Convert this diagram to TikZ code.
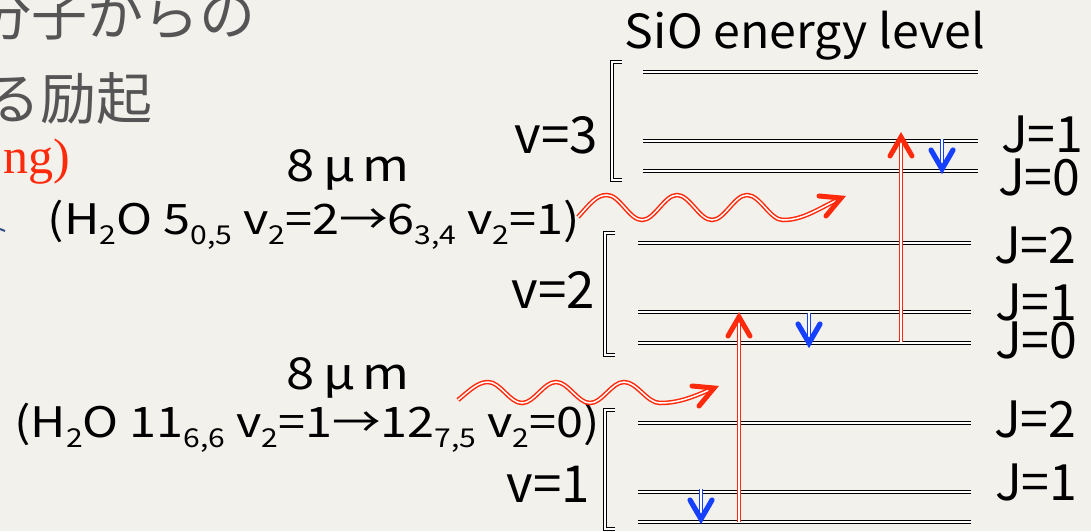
\documentclass[tikz,border=0pt]{standalone}
\usepackage{fontspec}
\setmainfont{Noto Sans CJK JP}
\newfontfamily\serifred{Liberation Serif}
\usetikzlibrary{calc}
\definecolor{bg}{HTML}{F3F1EC}
\definecolor{lred}{HTML}{FF2A0C}
\definecolor{lblue}{HTML}{1640FF}
\definecolor{jgrey}{HTML}{555555}
\definecolor{bulletblue}{HTML}{34508A}
\newcommand{\lowsub}[1]{\raisebox{-10pt}{\fontsize{26}{26}\selectfont #1}}
\newcommand{\mum}{\resizebox{123pt}{\height}{8\hspace{8pt}μ\hspace{6pt}m}}
\begin{document}
\begin{tikzpicture}[x=1pt,y=-1pt,
 level/.style={draw=black, line width=1.8pt, double=white, double distance=1.3pt},
 brack/.style={draw=black, line width=1.2pt, double=white, double distance=1.2pt},
 redshaft/.style={draw=lred, line width=1.5pt, double=white, double distance=1.5pt},
 redhead/.style={draw=lred, line width=5pt, line cap=round, line join=miter},
 blueshaft/.style={draw=lblue, line width=1.1pt, double=white, double distance=1.3pt},
 bluehead/.style={draw=lblue, line width=5.2pt, line cap=round, line join=miter},
 jlab/.style={anchor=base west, inner sep=0, font=\fontsize{50}{50}\selectfont},
 vlab/.style={anchor=base east, inner sep=0, font=\fontsize{51}{51}\selectfont},
 mulab/.style={anchor=base, inner sep=0, font=\fontsize{44}{44}\selectfont},
 hlab/.style={anchor=base, inner sep=0, font=\fontsize{42}{42}\selectfont},
]
\useasboundingbox (0,0) rectangle (1091,531);
\fill[bg] (0,0) rectangle (1091,531);
\clip (0,0) rectangle (1091,531);

% left text (cut off)
\node[anchor=base east, inner sep=0, text=jgrey, font=\fontsize{56}{56}\selectfont] (jp1) at (256,35) {分子からの};
\node[anchor=base east, inner sep=0, text=jgrey, font=\fontsize{56}{56}\selectfont] (jp2) at (153,119) {る励起};
\node[anchor=base east, inner sep=0, text=lred, font=\serifred\fontsize{50}{50}\selectfont] (ng) at (70,173) {ng)};
\draw[bulletblue, line width=2pt] (0,229) -- (5,231);

% title
\node[anchor=base, inner sep=0, font=\fontsize{47}{47}\selectfont] (title) at (805,48) {\resizebox{360pt}{\height}{SiO energy level}};

% energy levels
\draw[level] (643,72) -- (978,72);
\draw[level] (643,141) -- (978,141);
\draw[level] (643,171) -- (978,171);
\draw[level] (638,243) -- (971,243);
\draw[level] (638,312) -- (971,312);
\draw[level] (638,343) -- (971,343);
\draw[level] (638,423) -- (971,423);
\draw[level] (638,492) -- (971,492);
\draw[level] (638,522) -- (971,522);

% brackets
\draw[brack] (622,62) -- (612,62) -- (612,180) -- (622,180);
\draw[brack] (615,233) -- (605,233) -- (605,355) -- (615,355);
\draw[brack] (615,410) -- (605,410) -- (605,529) -- (615,529);

% v labels
\node[vlab] (v3) at (598,153) {v=3};
\node[vlab] (v2) at (595,308) {v=2};
\node[vlab] (v1) at (590,502) {v=1};

% J labels
\node[jlab] (v3j1) at (1001,152) {J=1};
\node[jlab] (v3j0) at (998,195) {J=0};
\node[jlab] (v2j2) at (994,263) {J=2};
\node[jlab] (v2j1) at (995,320) {J=1};
\node[jlab] (v2j0) at (995,358) {J=0};
\node[jlab] (v1j2) at (994,437) {J=2};
\node[jlab] (v1j1) at (995,500) {J=1};

% H2O texts
\node[mulab] (mu1) at (348,181) {\mum};
\node[hlab] (h1) at (314,234) {\resizebox{532pt}{\height}{(H\lowsub{2}O 5\lowsub{0,5} v\lowsub{2}=2→6\lowsub{3,4} v\lowsub{2}=1)}};
\node[mulab] (mu2) at (348,389) {\mum};
\node[hlab] (h2) at (307,437) {\resizebox{585pt}{\height}{(H\lowsub{2}O 11\lowsub{6,6} v\lowsub{2}=1→12\lowsub{7,5} v\lowsub{2}=0)}};

% red pumping arrows
\coordinate (a1s) at (739,522);
\coordinate (a1t) at (739,317);
\coordinate (a2s) at (901,342);
\coordinate (a2t) at (901,137);
\draw[redshaft] (a1s) -- (a1t);
\draw[redhead] ($(a1t)+(-11,19)$) -- (a1t) -- ($(a1t)+(11,19)$);
\draw[redshaft] (a2s) -- (a2t);
\draw[redhead] ($(a2t)+(-11,19)$) -- (a2t) -- ($(a2t)+(11,19)$);

% blue maser arrows
\coordinate (b3s) at (942,139);
\coordinate (b3t) at (942,169);
\coordinate (b2s) at (809,313);
\coordinate (b2t) at (809,343);
\coordinate (b1s) at (701,489);
\coordinate (b1t) at (701,519);
\foreach \s/\t in {b3s/b3t, b2s/b2t, b1s/b1t}{
  \draw[blueshaft] (\s) -- ($(\t)+(0,-4)$);
  \draw[bluehead] ($(\t)+(-11,-19)$) -- (\t) -- ($(\t)+(11,-19)$);
}

% wavy photons
\coordinate (w1s) at (578,217);
\coordinate (w1t) at (841,198);
\draw[redshaft] (w1s) .. controls (590,204) and (596,195) .. (607,195)
  cos (624.5,207.5) sin (642,220) cos (659.5,207.5) sin (677,195)
  cos (694.5,207.5) sin (712,220) cos (729.5,207.5) sin (747,195)
  cos (765,207.5) sin (783,220) .. controls (803,220) and (818,209) .. (w1t);
\draw[redhead] ($(w1t)+(-22,-2)$) -- (w1t) -- ($(w1t)+(-15,18)$);

\coordinate (w2s) at (458,400);
\coordinate (w2t) at (714,388);
\draw[redshaft] (w2s) .. controls (470,390) and (478,382) .. (488,382)
  cos (505,392.5) sin (522,403) cos (539,392.5) sin (556,382)
  cos (573,392.5) sin (590,403) cos (607,392.5) sin (624,382)
  cos (642,392.5) sin (660,403) .. controls (680,403) and (695,396) .. (w2t);
\draw[redhead] ($(w2t)+(-22,-2)$) -- (w2t) -- ($(w2t)+(-15,18)$);
\end{tikzpicture}
\end{document}
